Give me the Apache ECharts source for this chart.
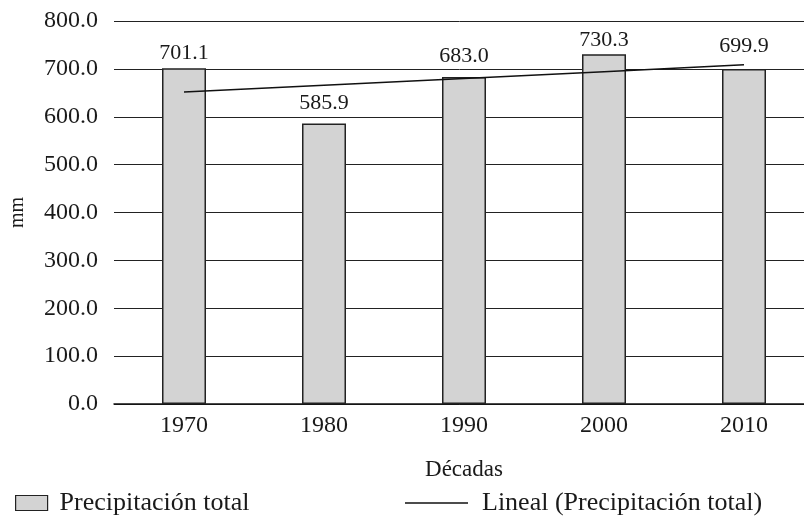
<!DOCTYPE html>
<html>
<head>
<meta charset="utf-8">
<script src="https://cdn.jsdelivr.net/npm/echarts@6/dist/echarts.min.js"></script>
<style>
  html, body { margin: 0; padding: 0; background: #fff; }
  #chart { width: 804px; height: 520px; }
</style>
</head>
<body>
<div id="chart"></div>
<script>
// Decadal precipitation totals (mm)
const decades = ['1970', '1980', '1990', '2000', '2010'];
const precipTotal = [701.1, 585.9, 683.0, 730.3, 699.9];
// Linear trend of the totals, one value per decade
const trendValues = [651.6, 665.8, 680.0, 694.2, 708.4];
const yTicks = { min: 0, max: 800, step: 100 };

// Vertical nudges for the value labels so they clear the trend line
const labelShift = [0, -5, -6, 1, -8];

const FONT = '"Liberation Serif", "Times New Roman", serif';
const INK = '#1a1a1a';

const chart = echarts.init(document.getElementById('chart'), null, { renderer: 'canvas' });

chart.setOption({
  backgroundColor: '#ffffff',
  animation: false,
  textStyle: { fontFamily: FONT, color: INK },
  grid: {
    left: 114, top: 21, width: 700, height: 383,
    containLabel: false,
    outerBoundsMode: 'none'
  },
  legend: [
    {
      left: 15, top: 490, padding: 0,
      itemWidth: 32, itemHeight: 15, itemGap: 0,
      icon: 'rect',
      itemStyle: { color: '#d3d3d3', borderColor: '#222', borderWidth: 1.2 },
      data: ['Precipitación total'],
      textStyle: { fontFamily: FONT, fontSize: 26, color: INK, padding: [0, 0, 0, 7] }
    },
    {
      left: 405, top: 490, padding: 0,
      itemWidth: 63, itemHeight: 1.5, itemGap: 0,
      icon: 'rect',
      itemStyle: { color: '#111', borderWidth: 0 },
      data: ['Lineal (Precipitación total)'],
      textStyle: { fontFamily: FONT, fontSize: 26, color: INK, padding: [0, 0, 0, 9] }
    }
  ],
  xAxis: {
    type: 'category',
    data: decades,
    name: 'Décadas',
    nameLocation: 'middle',
    nameGap: 54,
    nameTextStyle: { fontFamily: FONT, fontSize: 23, color: INK },
    axisLine: { show: true, lineStyle: { color: '#111', width: 1.5 } },
    axisTick: { show: false },
    axisLabel: { fontFamily: FONT, fontSize: 24, color: INK, margin: 10 },
    splitLine: { show: false }
  },
  yAxis: {
    type: 'value',
    min: yTicks.min,
    max: yTicks.max,
    interval: yTicks.step,
    name: 'mm',
    nameLocation: 'middle',
    nameGap: 86,
    nameRotate: 90,
    nameTextStyle: { fontFamily: FONT, fontSize: 20, color: INK },
    axisLine: { show: false },
    axisTick: { show: false },
    axisLabel: {
      fontFamily: FONT, fontSize: 24, color: INK, margin: 16,
      formatter: v => v.toFixed(1)
    },
    splitLine: { show: true, lineStyle: { color: '#222', width: 1 } }
  },
  series: [
    {
      name: 'Precipitación total',
      type: 'bar',
      barWidth: 44,
      z: 2,
      itemStyle: { color: '#d3d3d3', borderColor: '#222', borderWidth: 1.5 },
      label: {
        show: true,
        position: 'top',
        distance: 4,
        fontFamily: FONT,
        fontSize: 22,
        color: INK,
        formatter: p => p.value.toFixed(1)
      },
      data: precipTotal.map((v, i) => ({
        value: v,
        label: { offset: [0, labelShift[i]] }
      }))
    },
    {
      name: 'Lineal (Precipitación total)',
      type: 'line',
      z: 3,
      symbol: 'none',
      showSymbol: false,
      itemStyle: { color: '#111' },
      lineStyle: { color: '#111', width: 1.5 },
      data: trendValues
    }
  ]
});
</script>
</body>
</html>
